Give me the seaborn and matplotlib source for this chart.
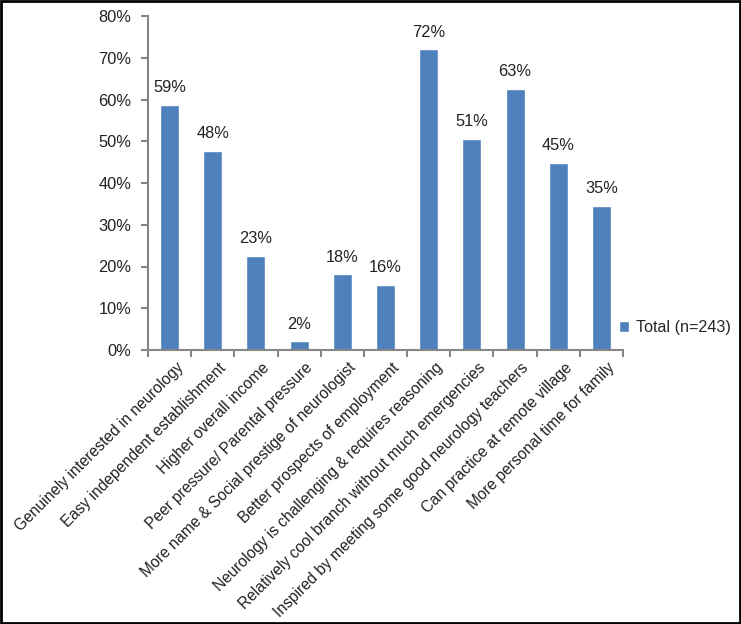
import numpy as np
import pandas as pd
import matplotlib
matplotlib.use("Agg")
import matplotlib.pyplot as plt
import matplotlib.transforms as mtransforms
from matplotlib.patches import Rectangle
import seaborn as sns

reasons = [
    "Genuinely interested in neurology",
    "Easy independent establishment",
    "Higher overall income",
    "Peer pressure/ Parental pressure",
    "More name & Social prestige of neurologist",
    "Better prospects of employment",
    "Neurology is challenging & requires reasoning",
    "Relatively cool branch without much emergencies",
    "Inspired by meeting some good neurology teachers",
    "Can practice at remote village",
    "More personal time for family",
]
percent = [58.8, 47.7, 22.6, 2.1, 18.1, 15.6, 72.0, 50.6, 62.6, 44.9, 34.6]
series_name = "Total (n=243)"
bar_color = "#4F81BD"
axis_color = "#868686"

sns.set_style("white")
plt.rcParams["font.family"] = ["Liberation Sans", "DejaVu Sans"]
plt.rcParams["font.size"] = 11.8

df = pd.DataFrame({"reason": reasons, "percent": percent})

fig = plt.figure(figsize=(7.41, 6.24), dpi=100)
ax = fig.add_axes([148 / 741, 1 - 350 / 624, 475 / 741, 334 / 624])

sns.barplot(data=df, x="reason", y="percent", color=bar_color, width=0.44,
            saturation=1, label=series_name, ax=ax)

ax.bar_label(ax.containers[0], labels=[f"{round(v)}%" for v in percent],
             padding=7, fontsize=11.8, color="#222222")

ax.set_xlim(-0.5, len(reasons) - 0.5)
ax.set_ylim(0, 80)
ax.set_yticks(np.arange(0, 81, 10))
ax.set_yticklabels([f"{t}%" for t in range(0, 81, 10)], color="#222222")
ax.set_xlabel("")
ax.set_ylabel("")

# category labels drawn as text so they can be nudged right like Excel does
ax.set_xticks(np.arange(len(reasons)))
ax.set_xticklabels([])
shift = mtransforms.ScaledTranslation(6 / 100, -10 / 100, fig.dpi_scale_trans)
for i, name in enumerate(reasons):
    ax.text(i, 0, name, transform=ax.get_xaxis_transform() + shift,
            rotation=45, ha="right", va="top", rotation_mode="anchor",
            fontsize=11.2, color="#222222")

ax.set_xticks(np.arange(-0.5, len(reasons)), minor=True)
ax.tick_params(axis="x", which="major", length=0)
ax.tick_params(axis="x", which="minor", length=5, width=1.5, color=axis_color, bottom=True)
ax.tick_params(axis="y", length=5, width=1.5, color=axis_color, left=True, pad=7)

for side in ["top", "right"]:
    ax.spines[side].set_visible(False)
for side in ["left", "bottom"]:
    ax.spines[side].set_color(axis_color)
    ax.spines[side].set_linewidth(1.5)

ax.legend(loc="center left", bbox_to_anchor=(0.991, 0.066), frameon=False,
          handlelength=0.65, handleheight=0.65, handletextpad=0.45,
          borderpad=0, borderaxespad=0, fontsize=11.6)

fig.patches.append(Rectangle((0.001, 0.001), 0.997, 0.997, transform=fig.transFigure,
                             fill=False, edgecolor="black", linewidth=2))

fig.savefig("out.png", dpi=100)
